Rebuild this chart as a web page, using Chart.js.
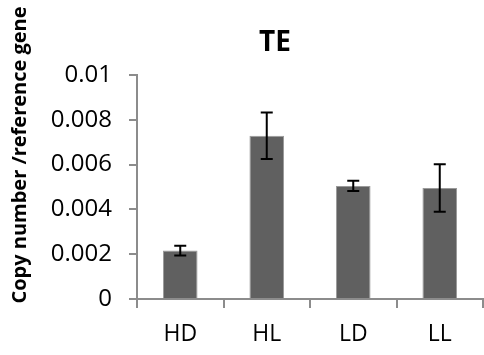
<!DOCTYPE html>
<html>
<head>
<meta charset="utf-8">
<script src="https://cdn.jsdelivr.net/npm/chart.js@4"></script>
<style>
  html, body { margin: 0; padding: 0; background: #fff; }
  #wrap { width: 484px; height: 355px; }
</style>
</head>
<body>
<div id="wrap"><canvas id="canvas1" width="484" height="355"></canvas></div>
<script>
// data
const groups = ["HD", "HL", "LD", "LL"];
const copyNumber = [0.00216, 0.00729, 0.00505, 0.00496];
const errSize = [0.00022, 0.00104, 0.00023, 0.00106];
const yTicks = [0, 0.002, 0.004, 0.006, 0.008, 0.01];

const fontName = "'Open Sans', sans-serif";
const axisGrey = "#8c8c8c";

// error bars, drawn through the y scale
const errorBars = {
  id: "errorBars",
  afterDatasetsDraw(chart) {
    let ctx = chart.ctx;
    let yScale = chart.scales.y;
    let meta = chart.getDatasetMeta(0);
    ctx.save();
    ctx.strokeStyle = "#000";
    ctx.lineWidth = 2;
    meta.data.forEach(function (bar, i) {
      let v = copyNumber[i];
      let top = yScale.getPixelForValue(v + errSize[i]);
      let bot = yScale.getPixelForValue(v - errSize[i]);
      let x = bar.x;
      ctx.beginPath();
      ctx.moveTo(x, top); ctx.lineTo(x, bot);
      ctx.moveTo(x - 6, top); ctx.lineTo(x + 6, top);
      ctx.moveTo(x - 6, bot); ctx.lineTo(x + 6, bot);
      ctx.stroke();
    });
    ctx.restore();
  }
};

// title + y label as in the original (not centred on the canvas)
const texts = {
  id: "texts",
  afterDraw(chart) {
    let ctx = chart.ctx;
    let area = chart.chartArea;
    ctx.save();
    ctx.fillStyle = "#000";
    ctx.textAlign = "center";
    ctx.textBaseline = "middle";
    ctx.font = "bold 28px " + fontName;
    ctx.fillText("TE", area.left + 138, 43);
    ctx.translate(20, 155);
    ctx.rotate(-Math.PI / 2);
    ctx.font = "bold 20px " + fontName;
    ctx.fillText("Copy number /reference gene", 0, 0);
    ctx.restore();
  }
};

new Chart(document.getElementById("canvas1"), {
  type: "bar",
  data: {
    labels: groups,
    datasets: [{
      data: copyNumber,
      backgroundColor: "#606060",
      borderColor: "#9a9a9a",
      borderWidth: 1,
      barPercentage: 0.4,
      categoryPercentage: 1
    }]
  },
  options: {
    responsive: false,
    animation: false,
    layout: { padding: { top: 75, right: 1, left: 0, bottom: 0 } },
    plugins: {
      legend: { display: false },
      title: { display: false },
      tooltip: { enabled: false }
    },
    scales: {
      x: {
        afterFit: function (scale) { scale.height = 56; },
        grid: { offset: true, drawOnChartArea: false, color: axisGrey, tickLength: 9, lineWidth: 2 },
        border: { color: axisGrey, width: 2 },
        ticks: { color: "#000", font: { family: fontName, size: 23 }, padding: 13 }
      },
      y: {
        min: 0,
        max: 0.01,
        afterFit: function (scale) { scale.width = 137; },
        afterBuildTicks: function (scale) {
          scale.ticks = yTicks.map(function (v) { return { value: v }; });
        },
        grid: { drawOnChartArea: false, color: axisGrey, tickLength: 8, lineWidth: 2 },
        border: { color: axisGrey, width: 2 },
        ticks: {
          color: "#000",
          font: { family: fontName, size: 24 },
          padding: 17,
          callback: function (v) { return String(+v.toFixed(3)); }
        }
      }
    }
  },
  plugins: [errorBars, texts]
});
</script>
</body>
</html>
